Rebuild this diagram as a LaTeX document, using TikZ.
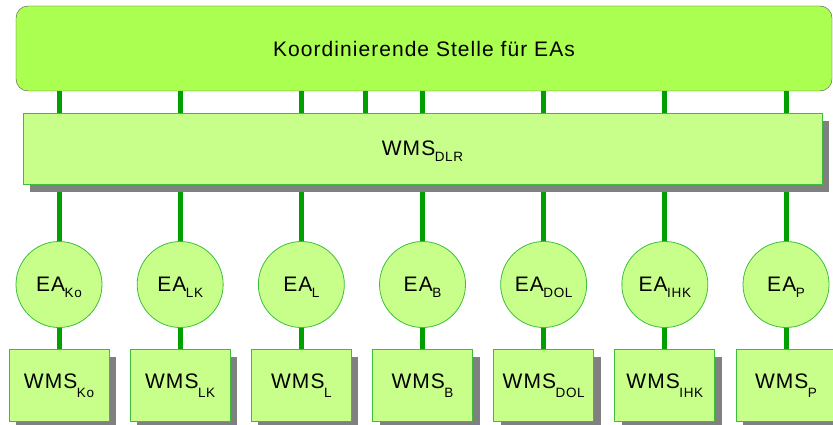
\documentclass[tikz,border=0pt]{standalone}
\usepackage{fontspec}
\setmainfont{Liberation Sans}[LetterSpace=5]
\usetikzlibrary{positioning, shadows, backgrounds}

\definecolor{koordgreen}{RGB}{170,255,80}
\definecolor{boxgreen}{RGB}{200,255,138}
\definecolor{edgegreen}{RGB}{60,190,60}
\definecolor{linkgreen}{RGB}{0,160,0}
\definecolor{shadowgray}{RGB}{128,128,128}

\newcommand{\lowidx}[2][6pt]{\kern-0.5pt\raisebox{-#1}[0pt][0pt]{\fontsize{13.5}{14}\selectfont #2}}

\begin{document}
\begin{tikzpicture}[x=1pt,y=-1pt,
  every node/.style={font=\fontsize{21}{24}\selectfont, inner sep=0pt},
  koordbox/.style={draw=black!70, fill=koordgreen, rounded corners=12pt,
    minimum width=816pt, minimum height=85pt},
  wmsbox/.style={draw=edgegreen, line width=0.8pt, fill=boxgreen,
    drop shadow={shadow xshift=7pt, shadow yshift=-8pt, fill=shadowgray, opacity=1}},
  eacircle/.style={circle, draw=edgegreen, line width=0.8pt, fill=boxgreen, minimum size=86pt},
  link/.style={linkgreen, line width=5pt, line cap=round}]

\useasboundingbox (0,0) rectangle (833,425);

\node[koordbox] (koord) at (424,48.5) {Koordinierende Stelle für EAs};
\node[wmsbox, minimum width=799pt, minimum height=71pt] (dlr) at (422.5,148.5) {WMS\lowidx{DLR}};

\foreach \name [count=\i from 0] in {Ko,LK,L,B,DOL,IHK,P} {
  \node[eacircle] (ea\i) at (59+121.17*\i,284.5) {EA\lowidx{\name}};
  \node[wmsbox, minimum width=100pt, minimum height=72pt, text depth=7pt]
    (wms\i) at (59+121.17*\i,385) {WMS\lowidx[9pt]{\name}};
}

% extra link between koord and dlr
\coordinate (extra) at (365,100);

\begin{scope}[on background layer]
\foreach \i in {0,...,6} {
  \draw[link] (koord.south -| ea\i) -- (dlr.north -| ea\i);
  \draw[link] (dlr.south -| ea\i) -- (ea\i.north);
  \draw[link] (ea\i.south) -- (wms\i.north);
}
\draw[link] (koord.south -| extra) -- (dlr.north -| extra);
\end{scope}

\end{tikzpicture}
\end{document}
